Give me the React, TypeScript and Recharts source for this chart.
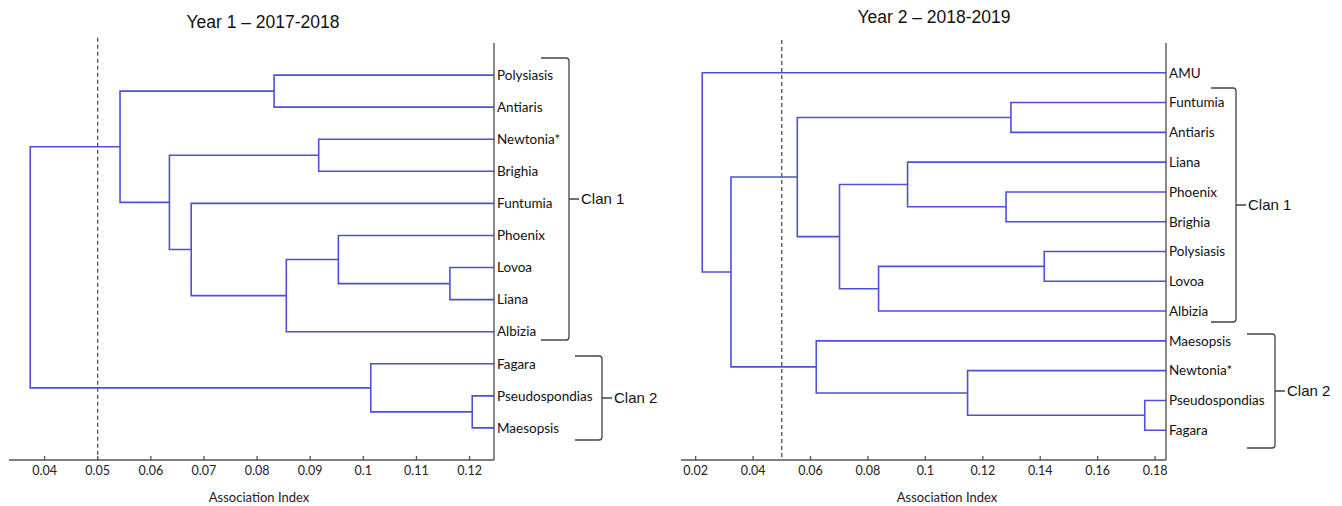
import React from 'react';
import { LineChart, Line, XAxis, YAxis, ReferenceLine } from 'recharts';

// leaf order, top to bottom
const year1Leaves = [
  'Polysiasis', 'Antiaris', 'Newtonia*', 'Brighia', 'Funtumia', 'Phoenix',
  'Lovoa', 'Liana', 'Albizia', 'Fagara', 'Pseudospondias', 'Maesopsis',
];

// [child, child, association index]; "mN" points to the Nth merge
const year1Merges: [string, string, number][] = [
  ['Polysiasis', 'Antiaris', 0.0832],
  ['Newtonia*', 'Brighia', 0.0916],
  ['Lovoa', 'Liana', 0.1163],
  ['Phoenix', 'm2', 0.0953],
  ['m3', 'Albizia', 0.0855],
  ['Funtumia', 'm4', 0.0676],
  ['m1', 'm5', 0.0635],
  ['m0', 'm6', 0.0542],
  ['Pseudospondias', 'Maesopsis', 0.1205],
  ['Fagara', 'm8', 0.1014],
  ['m7', 'm9', 0.0373],
];

const year2Leaves = [
  'AMU', 'Funtumia', 'Antiaris', 'Liana', 'Phoenix', 'Brighia', 'Polysiasis',
  'Lovoa', 'Albizia', 'Maesopsis', 'Newtonia*', 'Pseudospondias', 'Fagara',
];

const year2Merges: [string, string, number][] = [
  ['Funtumia', 'Antiaris', 0.1298],
  ['Phoenix', 'Brighia', 0.1281],
  ['Liana', 'm1', 0.0938],
  ['Polysiasis', 'Lovoa', 0.1414],
  ['m3', 'Albizia', 0.0837],
  ['m2', 'm4', 0.0701],
  ['m0', 'm5', 0.0554],
  ['Pseudospondias', 'Fagara', 0.1764],
  ['Newtonia*', 'm7', 0.1147],
  ['Maesopsis', 'm8', 0.062],
  ['m6', 'm9', 0.0323],
  ['AMU', 'm10', 0.0223],
];

const year1Ticks = [0.04, 0.05, 0.06, 0.07, 0.08, 0.09, 0.1, 0.11, 0.12];
const year2Ticks = [0.02, 0.04, 0.06, 0.08, 0.1, 0.12, 0.14, 0.16, 0.18];

const year1Domain: [number, number] = [0.0333, 0.1246];
const year2Domain: [number, number] = [0.0149, 0.1838];

const cutoff = 0.05;

const BLUE = '#4f4fdc';
const AXIS = '#555';
const LABEL_FONT = 'Lato, "Open Sans", sans-serif';
const TITLE_FONT = '"Liberation Sans", Arial, sans-serif';

// turn merges into U-shaped paths (one per merge)
function buildLinks(leaves: string[], merges: [string, string, number][], leafHeight: number) {
  const pos: Record<string, { x: number; y: number }> = {};
  leaves.forEach((name, i) => {
    pos[name] = { x: leafHeight, y: i };
  });
  return merges.map(([a, b, h], i) => {
    const pa = pos[a];
    const pb = pos[b];
    pos['m' + i] = { x: h, y: (pa.y + pb.y) / 2 };
    return [
      { x: pa.x, y: pa.y },
      { x: h, y: pa.y },
      { x: h, y: pb.y },
      { x: pb.x, y: pb.y },
    ];
  });
}

const XTick = (props: any) => {
  const { x, y, payload } = props;
  return (
    <g>
      <line x1={x} x2={x} y1={y - 4} y2={y} stroke={AXIS} strokeWidth={1.3} />
      <text x={x} y={y + 15} textAnchor="middle" fontSize={12.5} fontFamily={LABEL_FONT} fill="#222">
        {String(payload.value)}
      </text>
    </g>
  );
};

interface DendroProps {
  leaves: string[];
  merges: [string, string, number][];
  domain: [number, number];
  ticks: number[];
  width: number;
  marginLeft: number;
  labelWidth: number;
  cutTop: number;
}

const Dendrogram: React.FC<DendroProps> = ({ leaves, merges, domain, ticks, width, marginLeft, labelWidth, cutTop }) => {
  const links = buildLinks(leaves, merges, domain[1]);
  const n = leaves.length;
  return (
    <LineChart width={width} height={506} margin={{ top: 43, right: 0, bottom: 0, left: marginLeft }}>
      <XAxis
        type="number"
        dataKey="x"
        domain={domain}
        ticks={ticks}
        allowDataOverflow
        height={46}
        axisLine={{ stroke: AXIS, strokeWidth: 1.4 }}
        tickLine={false}
        tickSize={0}
        tickMargin={0}
        tick={<XTick />}
        interval={0}
      />
      <YAxis
        type="number"
        dataKey="y"
        orientation="right"
        reversed
        domain={[-1, n]}
        ticks={leaves.map((_, i) => i)}
        interval={0}
        width={labelWidth}
        tickFormatter={(v: number) => leaves[v] ?? ''}
        tick={{ fontSize: 13.5, fontFamily: LABEL_FONT, fill: '#111', textAnchor: 'start' }}
        tickLine={false}
        tickSize={0}
        tickMargin={3}
        axisLine={{ stroke: AXIS, strokeWidth: 1.4 }}
      />
      <ReferenceLine
        segment={[{ x: cutoff, y: cutTop }, { x: cutoff, y: n }]}
        stroke="#333"
        strokeWidth={1.1}
        strokeDasharray="4 3"
        ifOverflow="visible"
      />
      {links.map((pts, i) => (
        <Line
          key={i}
          data={pts}
          dataKey="y"
          type="linear"
          stroke={BLUE}
          strokeWidth={1.6}
          dot={false}
          activeDot={false}
          isAnimationActive={false}
        />
      ))}
    </LineChart>
  );
};

// square bracket with slightly rounded corners, opening to the left
const bracket = (x: number, top: number, bottom: number, arm: number, tick: number) => {
  const mid = (top + bottom) / 2;
  return (
    `M${x - arm},${top} L${x - 3},${top} Q${x},${top} ${x},${top + 3} ` +
    `L${x},${bottom - 3} Q${x},${bottom} ${x - 3},${bottom} L${x - arm},${bottom} ` +
    `M${x},${mid} L${x + tick},${mid}`
  );
};

const clans = [
  { x: 569, top: 58, bottom: 340, arm: 28, label: 'Clan 1' },
  { x: 602, top: 356, bottom: 440, arm: 27, label: 'Clan 2' },
  { x: 1236, top: 88, bottom: 322, arm: 25, label: 'Clan 1' },
  { x: 1275, top: 334, bottom: 448, arm: 28, label: 'Clan 2' },
];

export default function App() {
  return (
    <div style={{ position: 'absolute', left: 0, top: 0, width: 1342, height: 506, background: '#fff', overflow: 'hidden' }}>
      <div style={{ position: 'absolute', left: 0, top: 0 }}>
        <Dendrogram
          leaves={year1Leaves}
          merges={year1Merges}
          domain={year1Domain}
          ticks={year1Ticks}
          width={660}
          marginLeft={9}
          labelWidth={166}
          cutTop={-1.16}
        />
      </div>
      <div style={{ position: 'absolute', left: 660, top: 0 }}>
        <Dendrogram
          leaves={year2Leaves}
          merges={year2Merges}
          domain={year2Domain}
          ticks={year2Ticks}
          width={682}
          marginLeft={21}
          labelWidth={176}
          cutTop={-1.1}
        />
      </div>
      <svg width={1342} height={506} style={{ position: 'absolute', left: 0, top: 0, pointerEvents: 'none' }}>
        <text x={263} y={28} textAnchor="middle" fontSize={17.5} fontFamily={TITLE_FONT} fill="#111">
          Year 1 – 2017-2018
        </text>
        <text x={934} y={23} textAnchor="middle" fontSize={17.5} fontFamily={TITLE_FONT} fill="#111">
          Year 2 – 2018-2019
        </text>
        <text x={259} y={502} textAnchor="middle" fontSize={13} fontFamily={LABEL_FONT} fill="#222">
          Association Index
        </text>
        <text x={947} y={502} textAnchor="middle" fontSize={13} fontFamily={LABEL_FONT} fill="#222">
          Association Index
        </text>
        {clans.map((c, i) => (
          <g key={i}>
            <path d={bracket(c.x, c.top, c.bottom, c.arm, 10)} fill="none" stroke="#444" strokeWidth={1.3} />
            <text x={c.x + 12} y={(c.top + c.bottom) / 2 + 5} fontSize={15} fontFamily={TITLE_FONT} fill="#111">
              {c.label}
            </text>
          </g>
        ))}
      </svg>
    </div>
  );
}
